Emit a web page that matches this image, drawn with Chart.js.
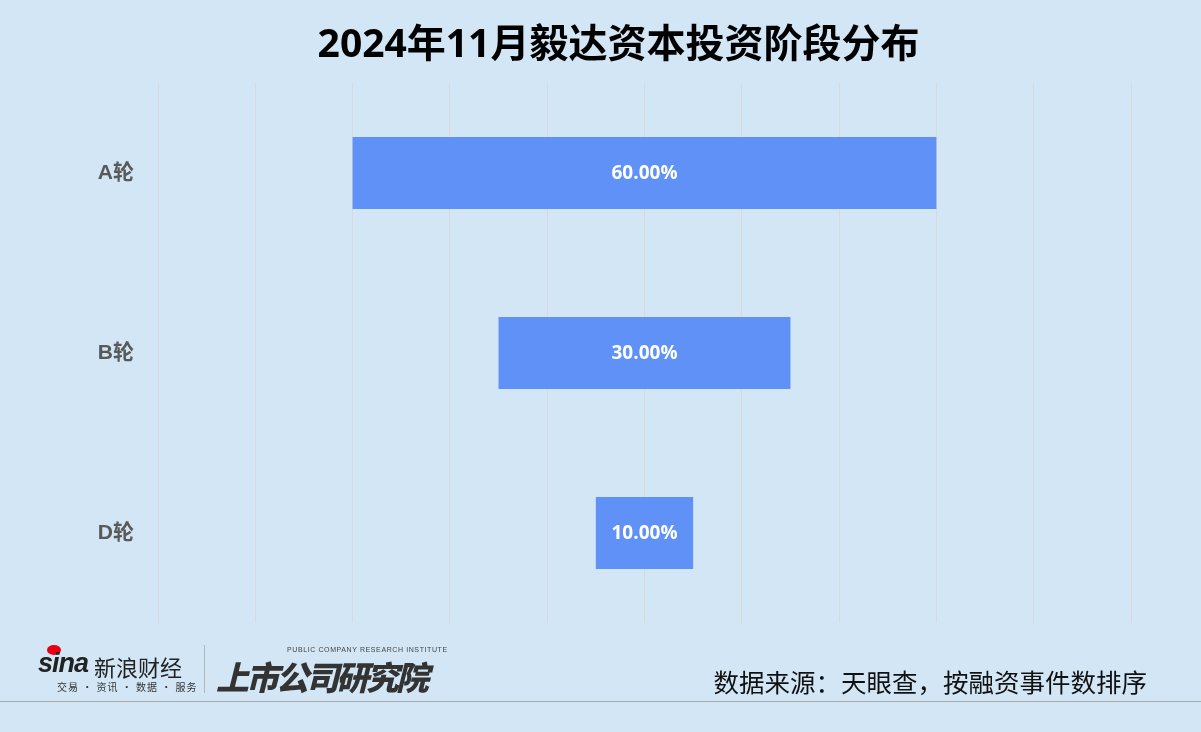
<!DOCTYPE html>
<html>
<head>
<meta charset="utf-8">
<script src="https://cdn.jsdelivr.net/npm/chart.js@4"></script>
<style>
  html, body { margin: 0; padding: 0; background: #d2e6f5; }
  body { width: 1201px; height: 732px; position: relative; overflow: hidden;
         font-family: "Noto Sans CJK SC", "Noto Sans", sans-serif; }
  #chart { position: absolute; left: 0; top: 0; }
  .title { position: absolute; left: 18px; width: 1201px; top: 22px; line-height: 40px; text-align: center;
           font-size: 39px; font-weight: bold; color: #000;
           font-family: "Open Sans", "Noto Sans CJK SC", sans-serif; }
  .source { position: absolute; right: 54px; top: 662px; font-size: 25.5px; color: #111; }
  .rule { position: absolute; left: 0; width: 1201px; top: 701px; height: 1px; background: #a9a9a9; }
  .sina { position: absolute; left: 38px; top: 648px; font-family: "Liberation Sans", Arial, sans-serif;
          font-style: italic; font-weight: bold; font-size: 27px; color: #222; letter-spacing: -1px; }
  .eye { position: absolute; left: 47px; top: 645px; width: 14px; height: 10px; border-radius: 50%;
         background: #e60012; }
  .xlcj { position: absolute; left: 94px; top: 650px; font-size: 22px; color: #222; }
  .sub { position: absolute; left: 57px; top: 679px; font-size: 10px; color: #333; letter-spacing: 1px; }
  .divider { position: absolute; left: 204px; top: 645px; width: 1px; height: 48px; background: #b5b5b5; }
  .inst { position: absolute; left: 216px; top: 652px; font-size: 33px; font-weight: 900;
          font-style: italic; color: #333; letter-spacing: -3px; }
  .inst-en { position: absolute; left: 287px; top: 646px; font-size: 7px; color: #444;
             font-family: "Liberation Sans", Arial, sans-serif; letter-spacing: 0.6px; }
</style>
</head>
<body>
<canvas id="chart" width="1201" height="732"></canvas>
<div class="title">2024年11月毅达资本投资阶段分布</div>

<div class="eye"></div>
<div class="sina">sina</div>
<div class="xlcj">新浪财经</div>
<div class="sub">交易 · 资讯 · 数据 · 服务</div>
<div class="divider"></div>
<div class="inst-en">PUBLIC COMPANY RESEARCH INSTITUTE</div>
<div class="inst">上市公司研究院</div>

<div class="source">数据来源：天眼查，按融资事件数排序</div>
<div class="rule"></div>

<script>
// =========================================================
// DATA
// =========================================================
const stages = ["A轮", "B轮", "D轮"];
const shares = [60, 30, 10];   // percent
const axisMax = 100;

// centred (funnel-style) bars
const floating = shares.map(v => [axisMax / 2 - v / 2, axisMax / 2 + v / 2]);


// =========================================================
// LABEL PLUGIN
// =========================================================
const barLabels = {
  id: "barLabels",
  afterDatasetsDraw(chart) {
    const ctx = chart.ctx;
    const meta = chart.getDatasetMeta(0);
    ctx.save();
    ctx.fillStyle = "#ffffff";
    ctx.font = "bold 19px 'Open Sans', 'Noto Sans', sans-serif";
    ctx.textAlign = "center";
    ctx.textBaseline = "middle";
    meta.data.forEach((bar, i) => {
      const p = bar.getProps(["x", "y", "base"], true);
      ctx.fillText(shares[i].toFixed(2) + "%", (p.x + p.base) / 2, p.y + 1);
    });
    ctx.restore();
  }
};


// =========================================================
// CHART
// =========================================================
new Chart(document.getElementById("chart"), {
  type: "bar",
  data: {
    labels: stages,
    datasets: [{
      data: floating,
      backgroundColor: "#5f91f7",
      borderWidth: 0,
      categoryPercentage: 0.4,
      barPercentage: 1.0
    }]
  },
  options: {
    indexAxis: "y",
    responsive: false,
    animation: false,
    layout: { padding: { top: 83, bottom: 109, left: 0, right: 70 } },
    plugins: {
      legend: { display: false },
      tooltip: { enabled: false }
    },
    scales: {
      x: {
        min: 0,
        max: axisMax,
        ticks: { display: false, stepSize: 10 },
        grid: { color: "#d9d9d9", lineWidth: 1, drawTicks: false },
        border: { display: false }
      },
      y: {
        afterFit(axis) { axis.width = 158; },
        ticks: {
          color: "#595959",
          padding: 24,
          font: { size: 21, weight: "bold", family: "'Liberation Sans', 'Noto Sans CJK SC', sans-serif" }
        },
        grid: { display: false, drawTicks: false },
        border: { display: false }
      }
    }
  },
  plugins: [barLabels]
});
</script>
</body>
</html>
